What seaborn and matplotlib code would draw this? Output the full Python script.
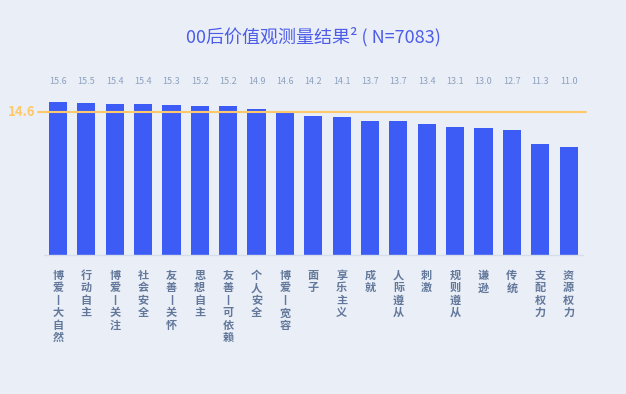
import matplotlib
matplotlib.use('Agg')
import matplotlib.pyplot as plt
import matplotlib.transforms as mtransforms
import seaborn as sns
import pandas as pd

# 数据
categories = ['博爱丨大自然', '行动自主', '博爱丨关注', '社会安全', '友善丨关怀', '思想自主',
              '友善丨可依赖', '个人安全', '博爱丨宽容', '面子', '享乐主义', '成就', '人际遵从',
              '刺激', '规则遵从', '谦逊', '传统', '支配权力', '资源权力']
scores = [15.6, 15.5, 15.4, 15.4, 15.3, 15.2, 15.2, 14.9, 14.6, 14.2, 14.1, 13.7, 13.7,
          13.4, 13.1, 13.0, 12.7, 11.3, 11.0]
mean_value = 14.6

df = pd.DataFrame({'category': categories, 'score': scores})

bg = '#EAEFF7'
bar_color = '#3D5BF5'
line_color = '#FFC86A'

sns.set_style('white')
plt.rcParams['font.family'] = ['Noto Sans CJK SC', 'DejaVu Sans']

fig = plt.figure(figsize=(6.26, 3.94), dpi=100, facecolor=bg)
ax = fig.add_axes([0.070, 0.353, 0.861, 0.398])
ax.set_facecolor(bg)

sns.barplot(data=df, x='category', y='score', color=bar_color, width=0.64,
            saturation=1, linewidth=0, edgecolor='none', ax=ax)

ax.set_xlim(-0.5, len(categories) - 0.5)
ax.set_ylim(0, 16)

# 平均线
ax.axhline(mean_value, xmin=-0.01, xmax=1.005, color=line_color, lw=1.5, clip_on=False, zorder=3)
ax.text(-0.016, mean_value, f'{mean_value}', transform=ax.get_yaxis_transform(),
        ha='right', va='center', color=line_color, fontsize=9.5, fontweight='bold')

# 数值标签
trans = mtransforms.blended_transform_factory(ax.transData, fig.transFigure)
for i, v in enumerate(scores):
    ax.text(i, 0.792, f'{v:.1f}', transform=trans, ha='center', va='center',
            fontsize=6.5, color='#8CA0BF')

# 竖排标签
ax.set_xticks(range(len(categories)))
ax.set_xticklabels(['\n'.join(c) for c in categories], fontsize=8, color='#62779A',
                   fontweight='bold', linespacing=0.95, va='top')
ax.tick_params(axis='x', length=0, pad=10)
ax.set_yticks([])
ax.set_xlabel('')
ax.set_ylabel('')

for s in ['top', 'right', 'left']:
    ax.spines[s].set_visible(False)
ax.spines['bottom'].set_color('#D5DDEA')
ax.spines['bottom'].set_linewidth(1)

fig.text(0.5, 0.906, '00后价值观测量结果² ( N=7083)', ha='center', va='center',
         fontsize=13, color='#4D5DE8')

fig.savefig('out.png', dpi=100, facecolor=bg)
